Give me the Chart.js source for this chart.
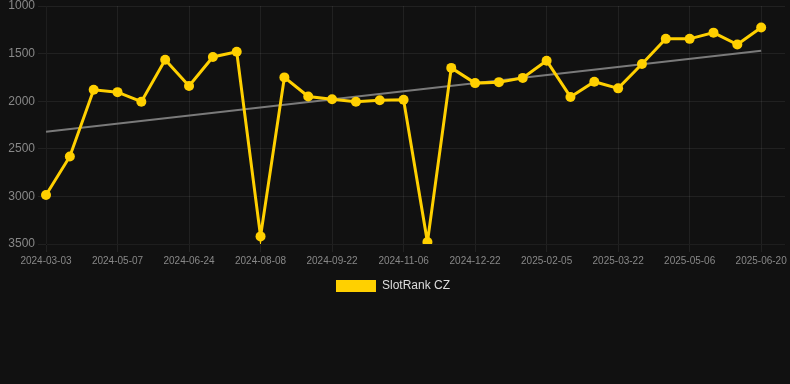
<!DOCTYPE html>
<html>
<head>
<meta charset="utf-8">
<script src="https://cdn.jsdelivr.net/npm/chart.js@4/dist/chart.umd.min.js"></script>
<style>
  html, body { margin: 0; padding: 0; background: #111111; }
  #wrap { position: relative; width: 790px; height: 302px; }
</style>
</head>
<body>
<div id="wrap"><canvas id="chart-rank"></canvas></div>
<script>
// Rank history (lower number = better rank, so the axis is reversed)
const labels = [
  '2024-03-03', '2024-03-25', '2024-04-15', '2024-05-07', '2024-05-23', '2024-06-08',
  '2024-06-24', '2024-07-09', '2024-07-24', '2024-08-08', '2024-08-23', '2024-09-07',
  '2024-09-22', '2024-10-07', '2024-10-22', '2024-11-06', '2024-11-21', '2024-12-07',
  '2024-12-22', '2025-01-06', '2025-01-21', '2025-02-05', '2025-02-20', '2025-03-07',
  '2025-03-22', '2025-04-06', '2025-04-21', '2025-05-06', '2025-05-21', '2025-06-05',
  '2025-06-20', '2025-07-05'
];
const rankValues = [
  2985, 2580, 1880, 1905, 2005, 1565, 1840, 1535, 1480, 3420, 1750, 1950,
  1980, 2005, 1990, 1985, 3480, 1650, 1810, 1800, 1755, 1575, 1955, 1795,
  1865, 1610, 1345, 1345, 1280, 1405, 1225, null
];
// trend line end points
const trendValues = [
  2320, null, null, null, null, null, null, null, null, null, null, null,
  null, null, null, null, null, null, null, null, null, null, null, null,
  null, null, null, null, null, null, 1470, null
];
const yTicks = { min: 1000, max: 3500, step: 500 };

const gridColor = 'rgba(255,255,255,0.07)';
const everyThird = (ctx) => (ctx.index % 3 === 0 ? gridColor : 'rgba(0,0,0,0)');

new Chart(document.getElementById('chart-rank').getContext('2d'), {
  type: 'line',
  data: {
    labels: labels,
    datasets: [
      {
        label: 'SlotRank CZ',
        data: rankValues,
        borderColor: '#ffd000',
        backgroundColor: '#ffd000',
        borderWidth: 3,
        pointRadius: 5,
        pointHoverRadius: 5,
        pointBackgroundColor: '#ffd000',
        pointBorderWidth: 0,
        tension: 0,
        order: 1
      },
      {
        label: 'trend',
        data: trendValues,
        borderColor: '#7a7a7a',
        borderWidth: 2,
        pointRadius: 0,
        spanGaps: true,
        order: 2
      }
    ]
  },
  options: {
    responsive: true,
    maintainAspectRatio: false,
    animation: false,
    layout: { padding: { right: 4 } },
    plugins: {
      tooltip: { enabled: false },
      legend: {
        position: 'bottom',
        labels: {
          color: '#dddddd',
          boxWidth: 40,
          boxHeight: 12,
          font: { size: 12 },
          filter: (item) => item.text !== 'trend',
          generateLabels: (chart) =>
            Chart.defaults.plugins.legend.labels.generateLabels(chart).map((l) => ({ ...l, lineWidth: 0 }))
        }
      }
    },
    scales: {
      x: {
        ticks: {
          color: '#888888',
          font: { size: 10 },
          autoSkip: false,
          maxRotation: 0,
          callback: function (v, i) { return i % 3 === 0 ? this.getLabelForValue(v) : ''; }
        },
        grid: { color: everyThird }
      },
      y: {
        reverse: true,
        min: yTicks.min,
        max: yTicks.max,
        afterFit: (axis) => { axis.width = 46; },
        ticks: {
          stepSize: yTicks.step,
          color: '#888888',
          font: { size: 12, lineHeight: 0.5 },
          callback: (v) => String(v)
        },
        grid: { color: gridColor }
      }
    }
  }
});
</script>
</body>
</html>
